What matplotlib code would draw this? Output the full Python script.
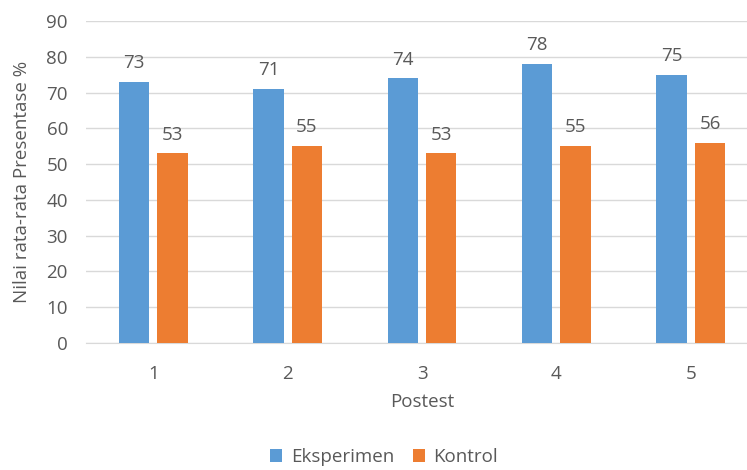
import matplotlib
matplotlib.use('Agg')
from matplotlib import pyplot as plt
import numpy as np

# data
categories = ['1', '2', '3', '4', '5']
eksperimen = [73, 71, 74, 78, 75]
kontrol = [53, 55, 53, 55, 56]

blue = '#5B9BD5'
orange = '#ED7D31'
text_grey = '#595959'
grid_grey = '#D9D9D9'

plt.rcParams['font.family'] = ['Open Sans', 'DejaVu Sans']
fs = 13.5

W, H = 747, 470
fig = plt.figure(figsize=(W / 100, H / 100), dpi=100)
# plot area: left 86px, top 21px, bottom 343px, runs off the right edge
left, right, top, bottom = 86, 758, 21, 343
ax = fig.add_axes([left / W, 1 - bottom / H, (right - left) / W, (bottom - top) / H])

x = np.arange(len(categories))
width = 0.225
off = 0.143
bars_e = ax.bar(x - off, eksperimen, width=width, color=blue, label='Eksperimen', zorder=3)
bars_k = ax.bar(x + off, kontrol, width=width, color=orange, label='Kontrol', zorder=3)

ax.set_xlim(-0.5, len(categories) - 0.5)
ax.set_ylim(0, 90)
ax.set_yticks(range(0, 91, 10))
ax.set_xticks(x)
ax.set_xticklabels(categories)

ax.grid(axis='y', color=grid_grey, linewidth=1, zorder=0)
for side in ['top', 'right', 'left']:
    ax.spines[side].set_visible(False)
ax.spines['bottom'].set_color(grid_grey)
ax.tick_params(axis='both', length=0, colors=text_grey, labelsize=fs)
ax.tick_params(axis='x', pad=16)
ax.tick_params(axis='y', pad=13)

# value labels over the bars
for bar_group in [bars_e, bars_k]:
    for bar in bar_group:
        h = bar.get_height()
        ax.annotate(str(int(h)), (bar.get_x() + bar.get_width() / 2, h),
                    xytext=(0, 7), textcoords='offset points',
                    ha='center', va='bottom', color=text_grey, fontsize=fs)

fig.text(422 / W, 1 - 402 / H, 'Postest', ha='center', va='center',
         color=text_grey, fontsize=fs)
fig.text(22 / W, 1 - 182 / H, 'Nilai rata-rata Presentase %', ha='center', va='center',
         rotation=90, color=text_grey, fontsize=fs)

leg = fig.legend(loc='center', bbox_to_anchor=(384 / W, 1 - 457 / H), ncol=2,
                 frameon=False, fontsize=fs, handlelength=0.65, handleheight=0.65,
                 handletextpad=0.45, columnspacing=1.0, borderpad=0.2)
for t in leg.get_texts():
    t.set_color(text_grey)

fig.savefig('out.png', dpi=100)
